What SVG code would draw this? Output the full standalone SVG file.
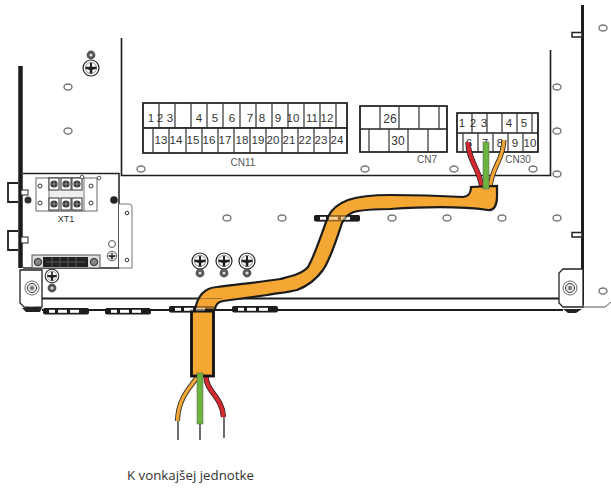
<svg xmlns="http://www.w3.org/2000/svg" width="611" height="488" viewBox="0 0 611 488">
<style>
.f{font-family:"Liberation Sans",Arial,sans-serif;fill:#333}
.n{font-size:11.5px;text-anchor:middle}
.c{font-size:10px;text-anchor:middle;fill:#555}
.l{fill:none;stroke:#1c1c1c;stroke-width:1.6}
.g{fill:none;stroke:#555;stroke-width:1}
.cell{fill:#fff;stroke:#444;stroke-width:1.2}
.out{fill:none;stroke:#222;stroke-width:1.6}
.ov{fill:#fff;stroke:#777;stroke-width:1.4}
</style>
<defs>
<ellipse id="o" class="ov" rx="4" ry="3"/>
<g id="gs"><circle r="8" fill="#fff" stroke="#222" stroke-width="1.2"/><circle r="5.6" fill="#fff" stroke="#444" stroke-width=".6"/><path d="M-5.5,-1.2H5.5V.8L1.3,2V5.5H-1.3V2L-5.5,.8Z M-1,-5H1V0H-1Z" fill="#222"/></g>
<g id="w"><circle r="4.4" fill="#555"/><circle r="1.6" fill="#ddd"/></g>
<g id="sc"><circle r="7" fill="#fff" stroke="#666"/><circle r="4.6" fill="#ddd" stroke="#444"/><circle r="2" fill="#777"/></g>
<g id="ts"><rect x="-5" y="-6" width="10" height="12" fill="#fff" stroke="#333"/><circle r="3.6" fill="#333"/><path d="M-3,0H3M0,-3V3" stroke="#aaa" stroke-width=".7"/></g>
<g id="clip"><rect x="0" y="0" width="46" height="6.5" rx="2" fill="#1c1c1c"/><rect x="6" y="1.8" width="6" height="3" fill="#fff"/><rect x="15" y="1.8" width="9" height="3" fill="#fff"/><rect x="27" y="1.8" width="9" height="3" fill="#fff"/></g>
</defs>

<g id="chassis">
<path d="M20.500,66V268" fill="none" stroke="#1c1c1c" stroke-width="4.500"/>
<path class="l" d="M121.500,38V175.500H550.500V50"/>
<path d="M582.500,5V305" fill="none" stroke="#1c1c1c" stroke-width="3"/>
<path d="M42,298.500H559M42,310H563" fill="none" stroke="#1c1c1c" stroke-width="1.800"/>
<path d="M583,307H605L611,302" class="g"/>
<path d="M572,32.500H582V37H572Z M572,232.500H582V237H572Z" fill="#fff" stroke="#222" stroke-width="1.500"/>
</g>

<g id="holes">
<use href="#o" x="68" y="87"/><use href="#o" x="68" y="131"/>
<use href="#o" x="141" y="169"/><use href="#o" x="365" y="169"/><use href="#o" x="454" y="169"/><use href="#o" x="533" y="169"/>
<use href="#o" x="227" y="218"/><use href="#o" x="282" y="218"/><use href="#o" x="392" y="218"/><use href="#o" x="447" y="218"/><use href="#o" x="502" y="218"/>
<use href="#o" x="557" y="87"/><use href="#o" x="557" y="131"/><use href="#o" x="557" y="174"/><use href="#o" x="557" y="218"/>
<use href="#o" x="603" y="28"/><use href="#o" x="603" y="291"/>
</g>

<g id="screws">
<use href="#w" x="91" y="55"/><use href="#gs" x="91" y="68"/>
<use href="#gs" x="200" y="261"/><use href="#gs" x="224" y="261"/><use href="#gs" x="247" y="261"/>
<use href="#w" x="200" y="273"/><use href="#w" x="224" y="273"/><use href="#w" x="247" y="273"/>
</g>

<g id="cn11">
<rect class="cell" x="143" y="103" width="204" height="25"/><rect class="cell" x="143" y="128" width="204" height="25"/>
<path class="out" d="M143,103H347V153H143Z M143,128H347"/>
<path stroke="#333" stroke-width="1.200" d="M159,103V128M175,103V128M191,103V128M207,103V128M223,103V128M240,103V128M256,103V128M272,103V128M288,103V128M304,103V128M320,103V128M336,103V128M153,128V153M169,128V153M186,128V153M202,128V153M218,128V153M234,128V153M250,128V153M266,128V153M282,128V153M298,128V153M314,128V153M330,128V153"/>
<g class="f n">
<text x="151" y="122">1</text><text x="160" y="122">2</text><text x="170" y="122">3</text><text x="199" y="122">4</text><text x="215" y="122">5</text><text x="232" y="122">6</text><text x="250" y="122">7</text><text x="262" y="122">8</text><text x="278" y="122">9</text><text x="293" y="122">10</text><text x="312" y="122">11</text><text x="327" y="122">12</text>
<text x="161" y="144">13</text><text x="176" y="144">14</text><text x="193" y="144">15</text><text x="209" y="144">16</text><text x="225" y="144">17</text><text x="242" y="144">18</text><text x="258" y="144">19</text><text x="273" y="144">20</text><text x="289" y="144">21</text><text x="305" y="144">22</text><text x="321" y="144">23</text><text x="337" y="144">24</text>
</g>
<text class="f c" x="243" y="166">CN11</text>
</g>

<g id="cn7">
<rect class="cell" x="360" y="106" width="87" height="46"/>
<path class="out" d="M360,106H447V152H360Z M360,129H447"/>
<path stroke="#333" stroke-width="1.200" d="M380,106V129M399,106V129M419,106V129M439,106V129M369,129V152M389,129V152M408,129V152M428,129V152"/>
<text class="f n" x="390" y="123" style="font-size:12px">26</text><text class="f n" x="398" y="145" style="font-size:12px">30</text>
<text class="f c" x="427" y="163">CN7</text>
</g>

<g id="cn30">
<rect class="cell" x="457" y="113" width="81" height="39"/>
<path class="out" d="M457,113H538V152H457Z M457,133H538"/>
<path stroke="#333" stroke-width="1.200" d="M472,113V133M487,113V133M502,113V133M517,113V133M532,113V133M463,133V152M478,133V152M493,133V152M508,133V152M523,133V152"/>
<g class="f n">
<text x="462" y="127">1</text><text x="473" y="127">2</text><text x="484" y="127">3</text><text x="509" y="127">4</text><text x="524" y="127">5</text>
<text x="469" y="147">6</text><text x="485" y="147">7</text><text x="500" y="147">8</text><text x="515" y="147">9</text><text x="530" y="147">10</text>
</g>
<text class="f c" x="518" y="163">CN30</text>
</g>

<g id="xt1-panel">
<path d="M23,173.500H119V268" fill="none" stroke="#222" stroke-width="1.500"/>
<path d="M119,268H23" fill="none" stroke="#222" stroke-width="1.500"/>
<path d="M119,204H129Q132,204 132,207V268H119" fill="#fff" stroke="#777" stroke-width="1"/>
<circle cx="127" cy="213" r="1.800" fill="#fff" stroke="#333"/><circle cx="127" cy="260" r="1.800" fill="#fff" stroke="#333"/>
<circle cx="114" cy="200" r="3.800" fill="#222"/>
<ellipse cx="112" cy="244" rx="3.500" ry="3.500" fill="#fff" stroke="#555"/>
<use href="#gs" transform="translate(112,256) scale(.6)"/>
<rect x="36" y="178" width="61" height="33" fill="#fff" stroke="#666"/>
<rect x="49" y="178" width="35" height="33" fill="#eee" stroke="#777"/>
<use href="#ts" x="54" y="184"/><use href="#ts" x="66" y="184"/><use href="#ts" x="77" y="184"/>
<use href="#ts" x="54" y="204"/><use href="#ts" x="66" y="204"/><use href="#ts" x="77" y="204"/>
<circle cx="40" cy="186" r="2" fill="#fff" stroke="#333"/><circle cx="40" cy="203" r="2" fill="#fff" stroke="#333"/><circle cx="91" cy="186" r="2" fill="#fff" stroke="#333"/><circle cx="91" cy="203" r="2" fill="#fff" stroke="#333"/>
<circle cx="82" cy="177" r="1.800" fill="#fff" stroke="#555"/><circle cx="99" cy="178" r="1.800" fill="#fff" stroke="#555"/>
<text class="f" x="66" y="222" font-size="9" text-anchor="middle" fill="#444">XT1</text>
<rect x="32" y="255" width="68" height="13" fill="#ddd" stroke="#555"/>
<rect x="43" y="257" width="45" height="10" fill="#222"/>
<path d="M46,262H85M52,257V267M60,257V267M68,257V267M76,257V267" stroke="#777" stroke-width=".6"/>
<circle cx="38" cy="262" r="3.600" fill="#888" stroke="#222"/><circle cx="94" cy="262" r="3.600" fill="#888" stroke="#222"/>
</g>

<g id="left-tabs">
<path d="M18,183H8V202H18M18,231H8V250H18" fill="none" stroke="#222" stroke-width="1.800"/>
<rect x="21" y="190" width="7" height="5" fill="#fff" stroke="#222"/><rect x="21" y="237" width="7" height="6" fill="#fff" stroke="#222"/>
<circle cx="28" cy="200" r="3.500" fill="#333"/>
</g>

<g id="brackets">
<path d="M20,270H42V307Q30,308 24,307L20,303Z" fill="#fff" stroke="#222" stroke-width="1.300"/>
<path d="M563,269H583V307H563L559,303V273Z" fill="#fff" stroke="#222" stroke-width="1.300"/>
<use href="#sc" x="32" y="288"/><use href="#sc" x="570" y="288"/>
<use href="#w" x="52" y="288"/>
<use href="#gs" transform="translate(52,276) scale(.85)"/>
<path d="M22,308H42L40,312H26Z M563,309H582L576,313H568Z" fill="#222"/>
</g>

<g id="clips">
<use href="#clip" x="43" y="308"/><use href="#clip" x="105" y="308"/><use href="#clip" x="169" y="306"/><use href="#clip" x="232" y="306"/><use href="#clip" x="314" y="215"/>
</g>

<g id="connectors">
<path d="M178,421V440M200,424V440M224,417V438" fill="none" stroke="#222" stroke-width="1.300"/>
<path d="M198,376C190,388 178,398 177.500,421" fill="none" stroke="#222" stroke-width="5"/>
<path d="M198,376C190,388 178,398 177.500,421" fill="none" stroke="#f0a535" stroke-width="3.400"/>
<path d="M206,376C206,392 222,396 223.500,417" fill="none" stroke="#222" stroke-width="5.400"/>
<path d="M206,376C206,392 222,396 223.500,417" fill="none" stroke="#d42a2f" stroke-width="4"/>
<path d="M468,142C468,160 480,170 482,188" fill="none" stroke="#222" stroke-width="5.400"/>
<path d="M468,142C468,160 480,170 482,188" fill="none" stroke="#d42a2f" stroke-width="4"/>
<path d="M504,140C503,162 492,165 490,188" fill="none" stroke="#222" stroke-width="5"/>
<path d="M504,140C503,162 492,165 490,188" fill="none" stroke="#f0a535" stroke-width="3.400"/>
<path d="M195,310C197,298 203,288 217,287C240,284 262,282 280,279C292,276 302,274 308,267C315,255 322,232 328,217C332,208 340,203 348,200C360,196 375,195 390,195C420,195 445,196 463,197C470,196 471,192 471,187L497,186V197C497,205 494,211 488,210C460,206 420,207 390,209C375,209 365,210 358,211C350,212 345,217 342,223C337,238 331,258 323,270C315,281 305,287 297,290C285,293 276,293 267,295L223,301C218,302 215,305 215,310Z" fill="#f5a733" stroke="#1c1c1c" stroke-width="2.200"/>
<rect x="191.500" y="311" width="22" height="65" fill="#f5a733" stroke="#111" stroke-width="2.800"/>
<rect x="197" y="373" width="6" height="51" fill="#6cb33f" stroke="#555" stroke-width=".5"/>
<rect x="483" y="142" width="6" height="47" fill="#6cb33f" stroke="#555" stroke-width=".5"/>
<path d="M193,298.500H222M193,310H214" stroke="#333" stroke-width=".8" opacity=".5" fill="none"/>
<g opacity=".45"><use href="#clip" x="169" y="306"/><use href="#clip" x="314" y="215"/></g>
</g>

<text id="caption" x="190.500" y="480" font-family="'Open Sans','Noto Sans',sans-serif" font-size="13.300" text-anchor="middle" fill="#333">K vonkajšej jednotke</text>
</svg>
